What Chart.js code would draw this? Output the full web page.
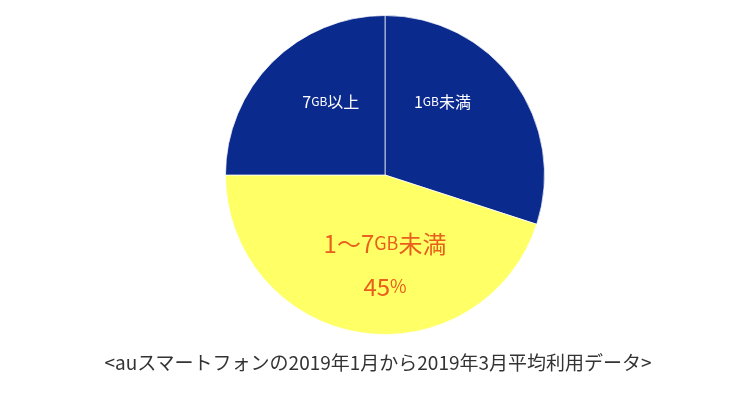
<!DOCTYPE html>
<html><head><meta charset="utf-8">
<script src="https://cdn.jsdelivr.net/npm/chart.js@4"></script>
<style>
body{margin:0;background:#fff;font-family:"Noto Sans CJK JP",sans-serif}
#wrap{position:relative;width:756px;height:410px}
#cap{position:absolute;left:0;width:756px;top:348px;text-align:center;font-size:19px;color:#333}
</style></head><body>
<div id="wrap"><canvas id="c" width="756" height="410"></canvas>
<div id="cap">&lt;auスマートフォンの2019年1月から2019年3月平均利用データ&gt;</div></div>
<script>
var labels = ['1GB未満', '1〜7GB未満', '7GB以上'];
var values = [30, 45, 25];
var colors = ['#0b2a8e', '#ffff66', '#0b2a8e'];

// text drawn on top of slices, offsets from pie centre (in radius units)
var sliceText = [
    {parts: [['1', 16], ['GB', 12], ['未満', 16]], dx: 0.36, dy: -0.46, color: '#fff'},
    {parts: [['1〜7', 24], ['GB', 18], ['未満', 24]], dx: 0, dy: 0.43, color: '#e8601c'},
    {parts: [['45', 24], ['%', 18]], dx: 0, dy: 0.70, color: '#e8601c'},
    {parts: [['7', 16], ['GB', 12], ['以上', 16]], dx: -0.34, dy: -0.46, color: '#fff'}
];

const textPlugin = {
    id: 'sliceText',
    afterDatasetsDraw(chart) {
        var arc = chart.getDatasetMeta(0).data[0];
        var ctx = chart.ctx;
        ctx.save();
        ctx.textBaseline = 'middle';
        ctx.textAlign = 'left';
        sliceText.forEach(t => {
            var w = 0;
            t.parts.forEach(p => {
                ctx.font = `${p[1]}px "Noto Sans CJK JP"`;
                w += ctx.measureText(p[0]).width;
            });
            var x = arc.x + t.dx * arc.outerRadius - w / 2;
            var y = arc.y + t.dy * arc.outerRadius;
            ctx.fillStyle = t.color;
            t.parts.forEach(p => {
                ctx.font = `${p[1]}px "Noto Sans CJK JP"`;
                ctx.fillText(p[0], x, y);
                x += ctx.measureText(p[0]).width;
            });
        });
        ctx.restore();
    }
};

new Chart(document.getElementById('c').getContext('2d'), {
    type: 'pie',
    data: {
        labels: labels,
        datasets: [{
            data: values,
            backgroundColor: colors,
            borderColor: 'rgba(255,255,255,0.7)',
            borderWidth: 1
        }]
    },
    options: {
        responsive: false,
        animation: false,
        layout: {padding: {top: 15, bottom: 75, left: 225, right: 211}},
        plugins: {legend: {display: false}, tooltip: {enabled: false}}
    },
    plugins: [textPlugin]
});
</script>
</body></html>
